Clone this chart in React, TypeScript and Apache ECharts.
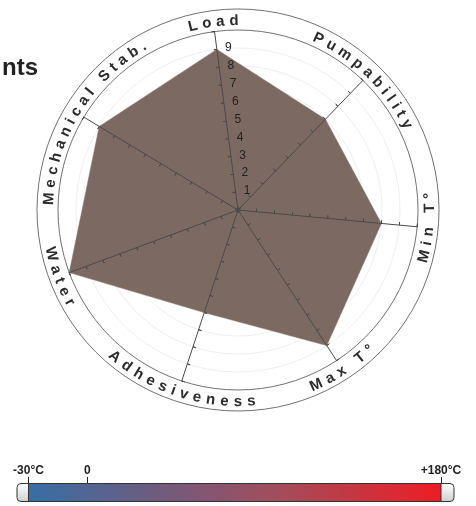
import React, { useEffect, useRef } from 'react';
import * as echarts from 'echarts';

// ---- data (listed clockwise, starting at the top) ----
const indicatorNames = ['Load', 'Pumpability', 'Min T°', 'Max T°', 'Adhesiveness', 'Water', 'Mechanical Stab.'];
const indicatorValues = [9, 7, 8, 9, 6, 10, 9];
const axisMax = 10;
const tempRange = [-30, 180];
const tempTickValues = [-30, 0, 180];
const tempTickTexts = ['-30°C', '0', '+180°C'];
const titleText = 'nts';

// ---- layout ----
const W = 476;
const H = 506;
const CX = 238;
const CY = 210;
const R = 180;
const R_OUT = 201;
const START = 97.5;
const FONT = '"Liberation Sans", Arial, Helvetica, sans-serif';

// ECharts places radar indicators counter-clockwise; our lists are clockwise.
const N = indicatorNames.length;
const ccwOrder = indicatorNames.map((_, k) => (N - k) % N);

function buildCurvedNames(): any[] {
  const canvas = document.createElement('canvas');
  const ctx = canvas.getContext('2d')!;
  const font = `bold 15px ${FONT}`;
  ctx.font = font;
  const rText = (R + R_OUT) / 2;
  const spacing = 5;
  const els: any[] = [];
  indicatorNames.forEach((name, idx) => {
    const theta = ((START - (idx * 360) / N) * Math.PI) / 180;
    const chars = Array.from(name);
    const widths = chars.map((c) => ctx.measureText(c).width);
    const total = widths.reduce((a, b) => a + b, 0) + spacing * (chars.length - 1);
    const cw = Math.sin(theta) >= 0;
    let s = 0;
    chars.forEach((c, i) => {
      const mid = s + widths[i] / 2;
      s += widths[i] + spacing;
      if (c === ' ') return;
      const off = (mid - total / 2) / rText;
      const a = cw ? theta - off : theta + off;
      const x = CX + rText * Math.cos(a);
      const y = CY - rText * Math.sin(a);
      const rot = cw ? a - Math.PI / 2 : a + Math.PI / 2;
      els.push({
        type: 'text',
        x,
        y,
        rotation: rot,
        silent: true,
        z: 10,
        style: {
          text: c,
          x: 0,
          y: 0,
          align: 'center',
          verticalAlign: 'middle',
          font,
          fill: '#2b2b2b',
        },
      });
    });
  });
  return els;
}

function buildOption(): any {
  const baseIndicator = ccwOrder.map((i) => ({ name: indicatorNames[i], min: 0, max: axisMax }));
  const seriesValues = ccwOrder.map((i) => indicatorValues[i]);
  const ringColors = Array.from({ length: axisMax + 1 }, (_, i) => (i === axisMax ? '#707070' : '#eeeeee'));
  const common = {
    center: [CX, CY],
    radius: R,
    startAngle: START,
    shape: 'circle',
    splitNumber: axisMax,
    axisName: { show: false },
    splitArea: { show: false },
  };
  const axisColor = '#4a4a4a';

  const barGradient = new echarts.graphic.LinearGradient(0, 0, 1, 0, [
    { offset: 0, color: '#386ea6' },
    { offset: 0.3, color: '#6d5c80' },
    { offset: 0.6, color: '#a24d5c' },
    { offset: 1, color: '#ef1c24' },
  ]);
  const capGradient = new echarts.graphic.LinearGradient(0, 0, 0, 1, [
    { offset: 0, color: '#ffffff' },
    { offset: 1, color: '#cfcfcf' },
  ]);

  return {
    animation: false,
    radar: [
      {
        ...common,
        indicator: baseIndicator,
        axisLine: { show: false },
        axisTick: { show: false },
        axisLabel: { show: false },
        splitLine: { show: true, lineStyle: { color: ringColors, width: 1 } },
        z: 0,
      },
      {
        ...common,
        indicator: baseIndicator.map((ind, k) =>
          k === 0
            ? {
                ...ind,
                axisLabel: {
                  show: true,
                  color: '#222222',
                  fontSize: 12,
                  fontFamily: FONT,
                  margin: -15,
                  formatter: (v: number) => (v > 0 && v < axisMax ? String(v) : ''),
                },
              }
            : { ...ind }
        ),
        axisLine: { show: true, lineStyle: { color: axisColor, width: 1 } },
        axisTick: { show: true, length: 3, lineStyle: { color: axisColor, width: 1 } },
        axisLabel: { show: false },
        splitLine: { show: false },
        z: 5,
      },
      {
        ...common,
        indicator: baseIndicator.map((ind) => ({ ...ind })),
        axisLine: { show: false },
        axisTick: { show: true, inside: true, length: 3, lineStyle: { color: axisColor, width: 1 } },
        axisLabel: { show: false },
        splitLine: { show: false },
        z: 5,
      },
      {
        center: [CX, CY],
        radius: R_OUT,
        startAngle: START,
        shape: 'circle',
        splitNumber: 1,
        indicator: baseIndicator.map((ind) => ({ ...ind })),
        axisName: { show: false },
        axisLine: { show: false },
        axisTick: { show: false },
        axisLabel: { show: false },
        splitArea: { show: false },
        splitLine: { show: true, lineStyle: { color: '#707070', width: 1 } },
        z: 0,
      },
    ],
    grid: [{ left: 28.5, width: 412.5, top: 483.5, height: 18 }],
    xAxis: [
      {
        gridIndex: 0,
        type: 'value',
        min: tempRange[0],
        max: tempRange[1],
        interval: 10,
        position: 'top',
        axisLine: { show: false },
        splitLine: { show: false },
        axisTick: { show: true, length: 3.5, lineStyle: { color: '#222222', width: 1 } },
        axisLabel: { show: false },
      },
      {
        gridIndex: 0,
        type: 'value',
        min: tempRange[0],
        max: tempRange[1],
        position: 'top',
        axisLine: { show: false },
        splitLine: { show: false },
        axisTick: {
          show: true,
          length: 6.5,
          customValues: tempTickValues,
          lineStyle: { color: '#222222', width: 1 },
        },
        axisLabel: {
          show: true,
          customValues: tempTickValues,
          margin: 8,
          fontSize: 12,
          fontWeight: 'bold',
          fontFamily: FONT,
          color: '#222222',
          formatter: (v: number) => {
            const k = tempTickValues.indexOf(v);
            return k >= 0 ? tempTickTexts[k] : '';
          },
        },
      },
    ],
    yAxis: [{ gridIndex: 0, type: 'value', min: 0, max: 1, show: false }],
    series: [
      {
        type: 'radar',
        radarIndex: 0,
        symbol: 'none',
        silent: true,
        z: 2,
        data: [
          {
            value: seriesValues,
            areaStyle: { color: '#7c6a62', opacity: 1 },
            lineStyle: { color: '#7c6a62', width: 0.5 },
          },
        ],
      },
      {
        type: 'custom',
        xAxisIndex: 0,
        yAxisIndex: 0,
        clip: false,
        silent: true,
        z: 1,
        data: [[tempRange[0], tempRange[1]]],
        encode: { x: [0, 1] },
        renderItem: (params: any, api: any) => {
          const x0 = api.coord([api.value(0), 0])[0];
          const x1 = api.coord([api.value(1), 0])[0];
          const cs = params.coordSys;
          return {
            type: 'group',
            children: [
              {
                type: 'rect',
                shape: { x: x0 - 11.5, y: cs.y, width: x1 - x0 + 24.5, height: cs.height, r: 4 },
                style: { fill: capGradient, stroke: '#333333', lineWidth: 1 },
              },
              {
                type: 'rect',
                shape: { x: x0, y: cs.y, width: x1 - x0, height: cs.height },
                style: { fill: barGradient, stroke: '#333333', lineWidth: 1 },
              },
            ],
          };
        },
      },
    ],
    graphic: [
      {
        type: 'text',
        x: 38,
        y: 66,
        silent: true,
        style: {
          text: titleText,
          font: `bold 24px ${FONT}`,
          fill: '#222222',
          align: 'right',
          verticalAlign: 'middle',
        },
      },
      ...buildCurvedNames(),
    ],
  };
}

export default function App() {
  const ref = useRef<HTMLDivElement>(null);
  useEffect(() => {
    const chart = echarts.init(ref.current!, null, { renderer: 'svg' });
    chart.setOption(buildOption());
    return () => chart.dispose();
  }, []);
  return <div ref={ref} style={{ position: 'fixed', left: 0, top: 0, width: W, height: H }} />;
}
